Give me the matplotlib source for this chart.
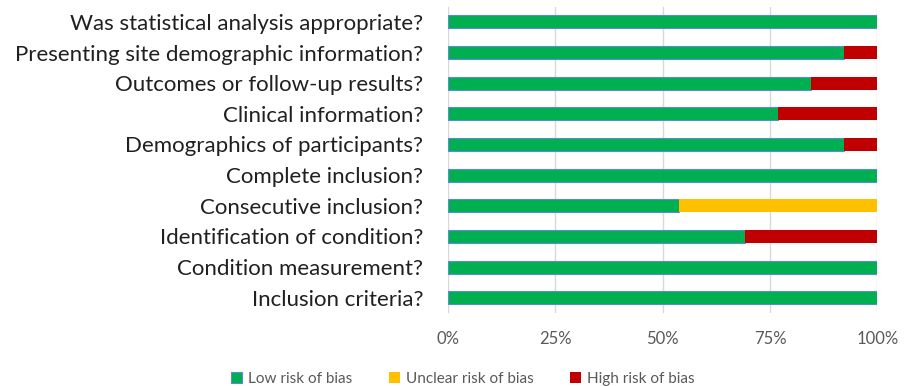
import matplotlib.pyplot as plt
import numpy as np

plt.rcParams['font.family'] = ['Lato', 'DejaVu Sans']

# risk-of-bias domains, listed top to bottom
domains = [
    "Was statistical analysis appropriate?",
    "Presenting site demographic information?",
    "Outcomes or follow-up results?",
    "Clinical information?",
    "Demographics of participants?",
    "Complete inclusion?",
    "Consecutive inclusion?",
    "Identification of condition?",
    "Condition measurement?",
    "Inclusion criteria?",
]
low = [100, 92.3, 84.6, 76.9, 92.3, 100, 53.8, 69.2, 100, 100]
unclear = [0, 0, 0, 0, 0, 0, 46.2, 0, 0, 0]
high = [0, 7.7, 15.4, 23.1, 7.7, 0, 0, 30.8, 0, 0]

series = [
    ("Low risk of bias", low, "#00B050", "#5B8BD0"),
    ("Unclear risk of bias", unclear, "#FFC000", "none"),
    ("High risk of bias", high, "#C00000", "none"),
]

fig = plt.figure(figsize=(9.11, 3.86), dpi=100)
ax = fig.add_axes([0.492, 0.189, 0.471, 0.794])

y = np.arange(len(domains))
left = np.zeros(len(domains))
handles = []
for name, vals, col, edge in series:
    vals = np.array(vals)
    b = ax.barh(y, vals, left=left, height=0.42, color=col,
                edgecolor=edge, linewidth=0.8, label=name, zorder=3)
    handles.append(b)
    left += vals

ax.set_ylim(len(domains) - 0.5, -0.5)
ax.set_xlim(0, 100)
ax.set_yticks(y)
ax.set_yticklabels(domains, fontsize=16, color="#202020")
ax.set_xticks([0, 25, 50, 75, 100])
ax.set_xticklabels(["0%", "25%", "50%", "75%", "100%"], fontsize=12, color="#595959")
ax.tick_params(axis="both", length=0)
ax.tick_params(axis="x", pad=13)
ax.tick_params(axis="y", pad=18)
ax.grid(axis="x", color="#D9D9D9", linewidth=1, zorder=0)
for s in ax.spines.values():
    s.set_visible(False)

fig.legend(handles=handles, labels=[s[0] for s in series], loc="lower center",
           bbox_to_anchor=(0.508, -0.035), ncol=3, frameon=False, fontsize=11,
           labelcolor="#595959", handlelength=0.7, handleheight=0.7,
           handletextpad=0.4, columnspacing=2.4)

fig.savefig("out.png", dpi=100)
